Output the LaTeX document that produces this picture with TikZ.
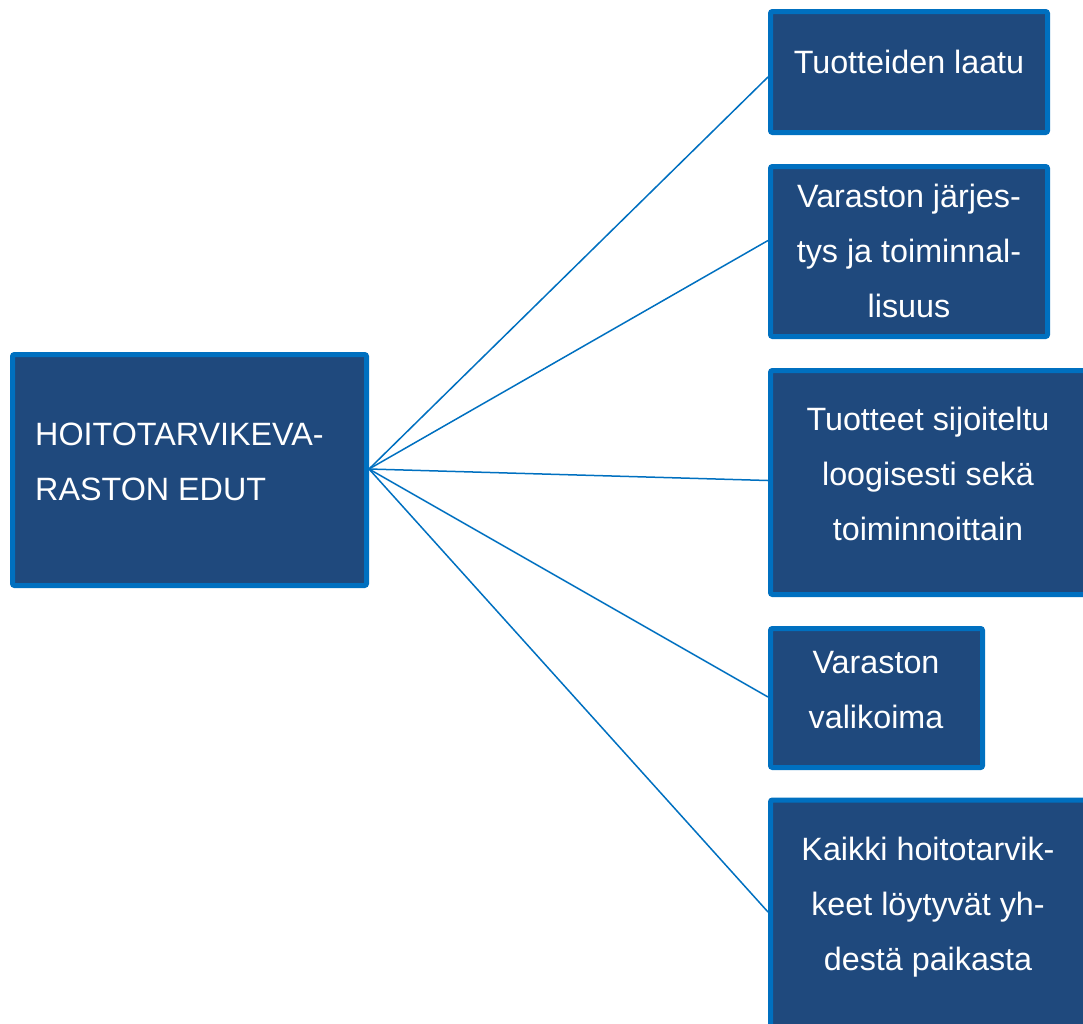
\documentclass[tikz,border=0pt]{standalone}
\usepackage{fontspec}
\setmainfont{Liberation Sans}
\definecolor{boxblue}{RGB}{31,73,125}
\definecolor{edgeblue}{RGB}{0,112,192}
\begin{document}
\begin{tikzpicture}[x=1pt,y=-1pt,
  box/.style={rectangle, draw=edgeblue, fill=boxblue, line width=5pt,
    rounded corners=2pt, inner sep=0pt},
  boxtext/.style={text=white, inner sep=0pt, anchor=base,
    font=\fontsize{32.3}{55}\selectfont},
  link/.style={draw=edgeblue, line width=1.5pt}]
\useasboundingbox (0,0) rectangle (1083,1023);
\clip (0,0) rectangle (1083,1023);

% boxes
\node[box, minimum width=354pt, minimum height=231pt] (main) at (189.5,470) {};
\node[box, minimum width=277pt, minimum height=121pt] (b1) at (909,72) {};
\node[box, minimum width=277pt, minimum height=170pt] (b2) at (909,251.5) {};
\node[box, minimum width=315pt, minimum height=224pt] (b3) at (928,482.5) {};
\node[box, minimum width=212pt, minimum height=139pt] (b4) at (876.5,698) {};
\node[box, minimum width=315pt, minimum height=232pt] (b5) at (928,916) {};

% box texts
\node[boxtext, anchor=base west] (t0) at (35,445)
  {\begin{tabular}[t]{@{}l@{}}HOITOTARVIKEVA-\\RASTON EDUT\end{tabular}};
\node[boxtext] (t1) at (909,73)
  {\begin{tabular}[t]{@{}c@{}}Tuotteiden laatu\end{tabular}};
\node[boxtext] (t2) at (909,207)
  {\begin{tabular}[t]{@{}c@{}}Varaston järjes-\\tys ja toiminnal-\\lisuus\end{tabular}};
\node[boxtext] (t3) at (928,430)
  {\begin{tabular}[t]{@{}c@{}}Tuotteet sijoiteltu\\loogisesti sekä\\toiminnoittain\end{tabular}};
\node[boxtext] (t4) at (876,673)
  {\begin{tabular}[t]{@{}c@{}}Varaston\\valikoima\end{tabular}};
\node[boxtext] (t5) at (928,860)
  {\begin{tabular}[t]{@{}c@{}}Kaikki hoitotarvik-\\keet löytyvät yh-\\destä paikasta\end{tabular}};

% connectors from the hub on the main box
\coordinate (hub) at ([yshift=1pt]main.east);
\draw[link] (hub) -- ([yshift=-5pt]b1.west);
\draw[link] (hub) -- ([yshift=11pt]b2.west);
\draw[link] (hub) -- ([yshift=2pt]b3.west);
\draw[link] (hub) -- ([yshift=1pt]b4.west);
\draw[link] (hub) -- ([yshift=4pt]b5.west);
\end{tikzpicture}
\end{document}
